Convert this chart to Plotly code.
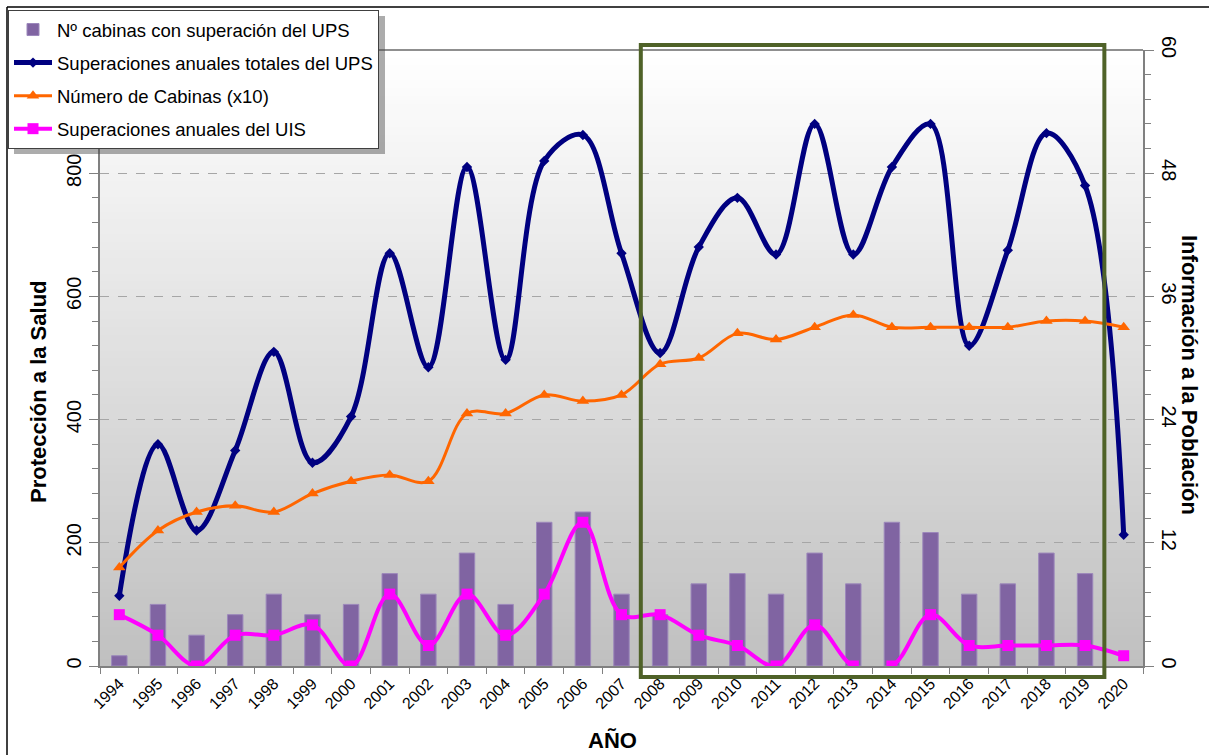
import plotly.graph_objects as go

years = [str(y) for y in range(1994, 2021)]

# Nº cabinas con superación del UPS (right axis)
cabinas_sup = [1, 6, 3, 5, 7, 5, 6, 9, 7, 11, 6, 14, 15, 7, 5, 8, 9, 7, 11, 8, 14, 13, 7, 8, 11, 9, None]
# Superaciones anuales totales del UPS (left axis)
sup_ups = [114, 360, 220, 350, 510, 330, 405, 670, 485, 810, 497, 820, 862, 670, 508,
           680, 760, 668, 880, 668, 810, 880, 520, 675, 865, 780, 213]
# Número de Cabinas (x10) (left axis)
num_cab = [160, 220, 250, 260, 250, 280, 300, 310, 300, 410, 410, 440, 430, 440, 490,
           500, 540, 530, 550, 570, 550, 550, 550, 550, 560, 560, 550]
# Superaciones anuales del UIS (right axis)
sup_uis = [5, 3, 0, 3, 3, 4, 0, 7, 2, 7, 3, 7, 14, 5, 5, 3, 2, 0, 4, 0, 0, 5, 2, 2, 2, 2, 1]

left_ticks = [0, 200, 400, 600, 800]
right_ticks = [0, 12, 24, 36, 48, 60]

FONT = "Liberation Sans, Arial, sans-serif"

fig = go.Figure()
fig.add_trace(go.Bar(
    x=years, y=cabinas_sup, name="Nº cabinas con superación del UPS", yaxis="y2",
    marker=dict(color="#8064a2", line=dict(color="#9c88bb", width=1)), width=0.4,
    legendgroup="a"))
fig.add_trace(go.Scatter(
    x=years, y=sup_ups, name="Superaciones anuales totales del UPS", mode="lines+markers",
    line=dict(color="#000080", width=5, shape="spline", smoothing=1.0),
    marker=dict(symbol="diamond", size=8, color="#000080"), legendgroup="b"))
fig.add_trace(go.Scatter(
    x=years, y=num_cab, name="Número de Cabinas (x10)", mode="lines+markers",
    line=dict(color="#ff6600", width=3, shape="spline", smoothing=1.0),
    marker=dict(symbol="triangle-up", size=11, color="#ff6600"), legendgroup="c"))
fig.add_trace(go.Scatter(
    x=years, y=sup_uis, name="Superaciones anuales del UIS", mode="lines+markers", yaxis="y2",
    line=dict(color="#ff00ff", width=4, shape="spline", smoothing=1.0),
    marker=dict(symbol="square", size=11, color="#ff00ff"), legendgroup="d"))

# plot area pixel geometry helpers (for decorations only)
L, R, T, B = 100, 66, 50, 89
W, H = 1209, 755
pw, ph = W - L - R, H - T - B
def px(x):
    return (x - L) / pw
def py(y):
    return (H - B - y) / ph

shapes = []
# vertical gradient background
n = 80
for i in range(n):
    f = i / (n - 1)
    c = int(round(255 - (255 - 192) * (1 - f)))
    shapes.append(dict(type="rect", xref="paper", yref="paper", x0=0, x1=1,
                       y0=i / n, y1=(i + 1) / n + 0.002, line=dict(width=0),
                       fillcolor=f"rgb({c},{c},{c})", layer="below"))
# top border of plot area
shapes.append(dict(type="line", xref="paper", yref="paper", x0=0, x1=1, y0=1, y1=1,
                   line=dict(color="#202020", width=1.2)))
# outer frame
shapes.append(dict(type="line", xref="paper", yref="paper", x0=px(7), x1=px(7),
                   y0=py(7), y1=py(760), line=dict(color="#000000", width=1.5)))
shapes.append(dict(type="line", xref="paper", yref="paper", x0=px(7), x1=px(1215),
                   y0=py(7), y1=py(7), line=dict(color="#000000", width=1.5)))
# legend shadow
shapes.append(dict(type="rect", xref="paper", yref="paper", x0=px(14), x1=px(385),
                   y0=py(154), y1=py(16), line=dict(width=0),
                   fillcolor="rgba(70,70,70,0.45)"))
# green highlight rectangle (2008-2019)
shapes.append(dict(type="rect", xref="x", yref="paper", x0=13.5, x1=25.5,
                   y0=py(677), y1=py(45), line=dict(color="#4f6228", width=4),
                   fillcolor="rgba(0,0,0,0)", layer="above"))

fig.update_layout(
    width=W, height=H,
    margin=dict(l=L, r=R, t=T, b=B, autoexpand=False),
    paper_bgcolor="white", plot_bgcolor="rgba(0,0,0,0)",
    font=dict(family=FONT, color="#000000"),
    showlegend=True,
    legend=dict(xref="container", yref="container", x=8 / W, y=1 - 10 / H,
                xanchor="left", yanchor="top",
                bgcolor="white", bordercolor="#404040", borderwidth=1,
                font=dict(size=18.5, family=FONT), itemwidth=38,
                traceorder="grouped", tracegroupgap=6),
    xaxis=dict(type="category", range=[-0.5, 26.5], tickangle=-45, tickson="boundaries",
               ticks="outside", ticklen=6, tickcolor="#808080", showline=True,
               linecolor="#808080", linewidth=2, showgrid=False, automargin=False,
               tickfont=dict(size=16)),
    yaxis=dict(range=[0, 1000], tickmode="array", tickvals=left_ticks, tickangle=-90,
               ticks="outside", ticklen=9, tickcolor="#808080", showline=True,
               linecolor="#808080", linewidth=2, showgrid=True, gridcolor="#a6a6a6",
               griddash="dash", gridwidth=1, zeroline=False, tickfont=dict(size=20),
               automargin=False,
               minor=dict(dtick=40, tick0=0, ticks="outside", ticklen=6,
                          tickcolor="#808080", showgrid=False)),
    yaxis2=dict(range=[0, 60], overlaying="y", side="right", tickmode="array",
                tickvals=right_ticks, tickangle=90, ticks="outside", ticklen=9,
                tickcolor="#808080", showline=True, linecolor="#808080", linewidth=2,
                showgrid=False, zeroline=False, tickfont=dict(size=20), automargin=False,
                minor=dict(dtick=2.4, tick0=0, ticks="outside", ticklen=6,
                           tickcolor="#808080", showgrid=False)),
    shapes=shapes,
    annotations=[
        dict(text="<b>Información a la Población</b>", xref="paper", yref="paper",
             x=px(1190), y=py(375), textangle=90, showarrow=False,
             font=dict(size=22, family=FONT), xanchor="center", yanchor="middle"),
        dict(text="<b>Protección a la Salud</b>", xref="paper", yref="paper",
             x=px(38), y=py(392), textangle=-90, showarrow=False,
             font=dict(size=22, family=FONT), xanchor="center", yanchor="middle"),
        dict(text="<b>AÑO</b>", xref="paper", yref="paper",
             x=px(612), y=py(740), showarrow=False,
             font=dict(size=22, family=FONT), xanchor="center", yanchor="middle"),
    ],
)

fig.write_html("out.html", config={"displayModeBar": False},
               post_script="document.body.style.margin='0';document.body.style.padding='0';")
